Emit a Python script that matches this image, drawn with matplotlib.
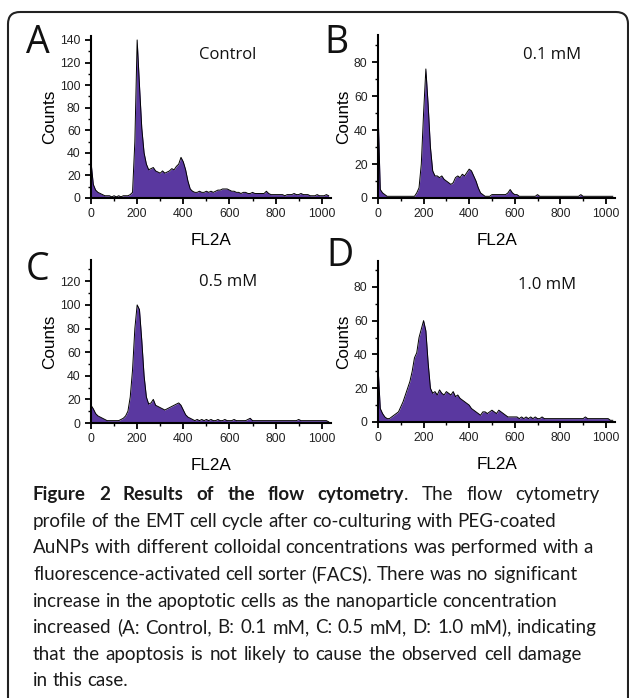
import numpy as np
import matplotlib
matplotlib.use("Agg")
import matplotlib.pyplot as plt
from matplotlib.patches import FancyBboxPatch

# channel positions (FL2A), 10-channel bins
fl2a = np.arange(0, 1040, 10)

control = [32, 12, 7, 5, 4, 3, 2, 2, 2, 1,
           2, 1, 2, 1, 2, 2, 2, 3, 5, 50,
           140, 100, 62, 40, 30, 25, 26, 27, 24, 23,
           22, 24, 22, 23, 24, 26, 25, 28, 30, 36,
           32, 25, 15, 8, 6, 5, 5, 6, 5, 5,
           6, 5, 6, 5, 6, 7, 7, 8, 8, 8,
           7, 6, 6, 5, 5, 4, 5, 5, 4, 4,
           5, 4, 4, 4, 4, 4, 6, 4, 3, 3,
           3, 3, 3, 3, 2, 3, 3, 3, 4, 3,
           3, 4, 3, 3, 3, 2, 2, 2, 3, 2,
           2, 2, 3, 2]

mm_01 = [52, 5, 3, 2, 1, 1, 1, 1, 1, 1,
         1, 1, 1, 1, 1, 1, 1, 3, 6, 20,
         50, 76, 55, 30, 16, 13, 13, 12, 13, 11,
         10, 9, 8, 9, 12, 13, 12, 14, 13, 15,
         17, 16, 13, 10, 6, 3, 2, 1, 1, 1,
         2, 2, 2, 2, 2, 2, 2, 3, 5, 3,
         2, 2, 1, 1, 1, 1, 1, 1, 1, 1,
         2, 1, 1, 1, 1, 1, 1, 1, 1, 1,
         1, 1, 1, 1, 1, 1, 1, 1, 1, 2,
         1, 1, 1, 1, 1, 1, 1, 1, 1, 1,
         1, 1, 1, 1]

mm_05 = [15, 12, 8, 6, 5, 4, 3, 2, 2, 2,
         2, 2, 2, 3, 4, 6, 10, 22, 45, 80,
         100, 96, 70, 40, 22, 16, 17, 20, 15, 14,
         13, 12, 11, 12, 13, 14, 15, 16, 17, 15,
         11, 7, 5, 4, 3, 2, 3, 2, 3, 2,
         3, 2, 3, 2, 2, 3, 2, 2, 3, 2,
         2, 2, 3, 2, 2, 2, 2, 2, 3, 4,
         2, 2, 2, 2, 2, 2, 2, 2, 2, 2,
         2, 2, 2, 2, 2, 2, 2, 2, 2, 2,
         3, 2, 2, 2, 2, 2, 2, 2, 2, 2,
         2, 2, 2, 1]

mm_10 = [33, 8, 5, 3, 2, 2, 3, 4, 5, 6,
         9, 12, 16, 20, 24, 30, 38, 41, 50, 55,
         60, 54, 35, 20, 17, 18, 16, 19, 17, 16,
         18, 17, 16, 18, 15, 16, 14, 13, 12, 11,
         10, 8, 7, 6, 5, 4, 6, 6, 5, 6,
         7, 6, 5, 7, 6, 5, 4, 3, 3, 3,
         3, 3, 2, 3, 2, 3, 2, 3, 2, 3,
         2, 2, 3, 2, 2, 2, 2, 2, 2, 2,
         2, 2, 2, 2, 2, 2, 2, 2, 2, 2,
         2, 3, 2, 2, 2, 2, 2, 2, 2, 2,
         2, 2, 1, 1]

letters = ["A", "B", "C", "D"]
conditions = ["Control", "0.1 mM", "0.5 mM", "1.0 mM"]
series = [control, mm_01, mm_05, mm_10]
y_tops = [143.5, 96, 138, 95.3]

caption_bold = "Figure 2 Results of the flow cytometry"
caption_lines = [
    ". The flow cytometry",
    "profile of the EMT cell cycle after co-culturing with PEG-coated",
    "AuNPs with different colloidal concentrations was performed with a",
    "fluorescence-activated cell sorter (FACS). There was no significant",
    "increase in the apoptotic cells as the nanoparticle concentration",
    "increased (A: Control, B: 0.1 mM, C: 0.5 mM, D: 1.0 mM), indicating",
    "that the apoptosis is not likely to cause the observed cell damage",
    "in this case.",
]
# right edge of each caption line in the original (justified text), None = ragged
line_ends = [600, None, 592, 577, None, 597, 582, None]

W, H = 629, 698
fig = plt.figure(figsize=(W / 100, H / 100), dpi=100)

# pixel-space overlay for border, letters and caption
bg = fig.add_axes([0, 0, 1, 1])
bg.set_xlim(0, W)
bg.set_ylim(H, 0)
bg.axis("off")
bg.add_patch(FancyBboxPatch((8, 12), 620, 740, boxstyle="round,pad=0,rounding_size=12",
                            fill=False, edgecolor="#222222", linewidth=1.5))

# axes boxes in pixels: left, x-axis y, top, right
boxes = [(91, 198, 36, 331), (378, 198, 35, 615), (91, 423, 260, 331), (378, 422, 261, 615)]
letter_pos = [(38, 43), (336, 43), (38, 270), (340, 256)]
cond_pos = [(228, 55), (552, 55), (228, 282), (547, 285)]

purple = "#5a38a0"
for i in range(4):
    l, b, t, r = boxes[i]
    ax = fig.add_axes([l / W, (H - b) / H, (r - l) / W, (b - t) / H])
    ax.patch.set_alpha(0)
    y = np.array(series[i], dtype=float)
    ax.fill_between(fl2a, y, color=purple, linewidth=0)
    ax.plot(fl2a, y, color="black", linewidth=0.7)
    ax.set_xlim(0, 1040)
    ax.set_ylim(0, y_tops[i])
    ax.set_xticks(np.arange(0, 1001, 200))
    ax.set_xticks(np.arange(0, 1001, 100), minor=True)
    ax.set_yticks(np.arange(0, y_tops[i], 20))
    ax.set_yticks(np.arange(0, y_tops[i], 10), minor=True)
    for s in ["top", "right"]:
        ax.spines[s].set_visible(False)
    for s in ["left", "bottom"]:
        ax.spines[s].set_linewidth(1.5)
    ax.tick_params(which="major", direction="out", length=4.5, width=1.3, labelsize=8.8, pad=3)
    ax.tick_params(which="minor", direction="out", length=2.5, width=1)
    for lab in ax.get_xticklabels() + ax.get_yticklabels():
        lab.set_fontfamily("Liberation Sans")
        lab.set_color("#222222")
    ax.set_ylabel("Counts", fontsize=12.3, fontfamily="Liberation Sans", labelpad=2)
    ax.set_xlabel("FL2A", fontsize=12.3, fontfamily="Liberation Sans", labelpad=9)
    bg.text(*letter_pos[i], letters[i], fontsize=27, fontfamily="Open Sans",
            ha="center", va="center", color="#111111", zorder=5)
    bg.text(*cond_pos[i], conditions[i], fontsize=12, fontfamily="Open Sans",
            ha="center", va="center", color="#111111", zorder=5)

# caption
cap_font = "Lato"
cap_size = 13.5
cap_color = "#1a1a1a"
baselines = [500, 527, 553, 580, 607, 633, 660, 686]
renderer = fig.canvas.get_renderer()


def text_width(s, weight="normal"):
    t = bg.text(0, 0, s, fontsize=cap_size, fontfamily=cap_font, fontweight=weight)
    w = t.get_window_extent(renderer).width
    t.remove()
    return w


def draw_line(x0, yy, tokens, x1=None):
    # tokens: list of (word, weight)
    widths = [text_width(w, wt) for w, wt in tokens]
    gap = text_width("a a") - text_width("aa")
    if x1 is not None and len(tokens) > 1:
        gap = max(gap, (x1 - x0 - sum(widths)) / (len(tokens) - 1))
    x = x0
    for (w, wt), wd in zip(tokens, widths):
        bg.text(x, yy, w, fontsize=cap_size, fontfamily=cap_font, fontweight=wt,
                ha="left", va="baseline", color=cap_color)
        x += wd + gap


first = [(w, "bold") for w in caption_bold.split(" ")[:-1]]
first.append((caption_bold.split(" ")[-1], "bold"))
rest = caption_lines[0].split(" ")
# the full stop sits right after the bold word
tokens0 = first + [(w, "normal") for w in rest[1:]]
w_last = text_width(first[-1][0], "bold")
w_dot = text_width(rest[0])
widths0 = [text_width(w, wt) for w, wt in tokens0]
gap0 = (line_ends[0] - 33 - sum(widths0) - w_dot) / (len(tokens0) - 1)
x = 33
for (w, wt), wd in zip(tokens0, widths0):
    bg.text(x, baselines[0], w, fontsize=cap_size, fontfamily=cap_font, fontweight=wt,
            ha="left", va="baseline", color=cap_color)
    x += wd
    if w == first[-1][0] and wt == "bold":
        bg.text(x, baselines[0], rest[0], fontsize=cap_size, fontfamily=cap_font,
                ha="left", va="baseline", color=cap_color)
        x += w_dot
    x += gap0

for k in range(1, len(caption_lines)):
    draw_line(33, baselines[k], [(w, "normal") for w in caption_lines[k].split(" ")], line_ends[k])

fig.savefig("out.png", dpi=100)
